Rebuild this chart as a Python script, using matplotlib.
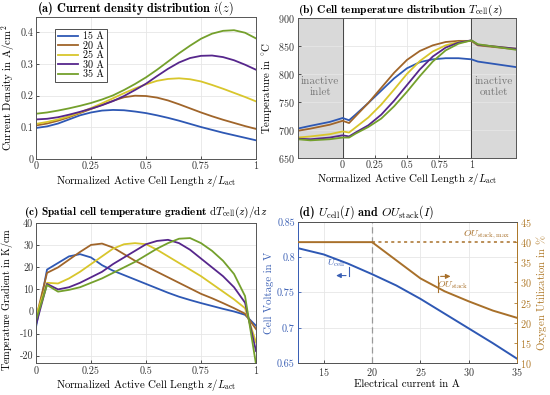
import numpy as np
import matplotlib
matplotlib.use("Agg")
import matplotlib.pyplot as plt

plt.rcParams['font.family'] = 'cmr10'
plt.rcParams['mathtext.fontset'] = 'cm'
plt.rcParams['axes.formatter.use_mathtext'] = True
plt.rcParams['axes.unicode_minus'] = True

# ---- data ----
labels = ['15 A', '20 A', '25 A', '30 A', '35 A']
colors = ['#2e58b4', '#a0652a', '#d8c62c', '#56268c', '#74a02c']

# (a) current density along the active cell
z_a = np.round(np.arange(0, 1.0001, 0.05), 2)
i_15 = [0.098, 0.103, 0.112, 0.125, 0.138, 0.147, 0.153, 0.155, 0.154, 0.150, 0.145,
        0.138, 0.130, 0.121, 0.111, 0.101, 0.092, 0.083, 0.075, 0.067, 0.059]
i_20 = [0.106, 0.112, 0.121, 0.132, 0.145, 0.158, 0.171, 0.184, 0.195, 0.200, 0.199,
        0.194, 0.185, 0.173, 0.160, 0.147, 0.135, 0.124, 0.114, 0.104, 0.095]
i_25 = [0.111, 0.117, 0.125, 0.135, 0.147, 0.161, 0.176, 0.192, 0.208, 0.223, 0.236,
        0.247, 0.253, 0.255, 0.252, 0.245, 0.234, 0.222, 0.209, 0.196, 0.182]
i_30 = [0.125, 0.127, 0.132, 0.140, 0.149, 0.159, 0.170, 0.183, 0.199, 0.218, 0.238,
        0.262, 0.285, 0.305, 0.319, 0.326, 0.327, 0.322, 0.312, 0.298, 0.282]
i_35 = [0.143, 0.147, 0.153, 0.160, 0.168, 0.177, 0.188, 0.201, 0.218, 0.237, 0.258,
        0.282, 0.308, 0.334, 0.358, 0.380, 0.396, 0.405, 0.407, 0.399, 0.381]
i_all = [i_15, i_20, i_25, i_30, i_35]

# (b) cell temperature incl. inactive inlet/outlet zones
z_b = [-0.35, -0.25, -0.1, 0.0, 0.05, 0.1, 0.2, 0.3, 0.4, 0.5, 0.6, 0.7, 0.8, 0.9, 1.0, 1.05, 1.35]
T_15 = [702, 707, 714, 721, 717, 727, 748, 770, 792, 810, 821, 826, 828, 828, 826, 822, 812]
T_20 = [698, 702, 709, 716, 712, 724, 748, 775, 802, 825, 841, 851, 857, 859, 859, 851, 844]
T_25 = [686, 688, 692, 697, 695, 704, 722, 745, 772, 800, 823, 840, 851, 857, 859, 852, 845]
T_30 = [684, 683, 686, 690, 688, 695, 708, 727, 752, 780, 808, 831, 847, 856, 860, 852, 845]
T_35 = [683, 681, 683, 686, 686, 693, 705, 720, 742, 768, 796, 822, 842, 854, 860, 853, 843]
T_all = [T_15, T_20, T_25, T_30, T_35]

# (c) spatial temperature gradient
z_c = z_a
g_15 = [-7, 19, 22, 25, 26, 24.5, 21, 18.5, 16.5, 14.5, 12.5, 10.5, 8.5, 6.7, 5.2, 3.8, 2.5, 1.2, 0, -1.5, -6.5]
g_20 = [-3, 17.5, 20, 23.5, 27, 30.2, 30.8, 29, 26, 23, 20.5, 18, 15.5, 13, 10.5, 8, 6, 3.8, 1.5, -1, -8]
g_25 = [-2, 13, 12.7, 15, 18, 21.5, 25, 28.5, 30.5, 31, 30.5, 28, 25, 22, 19, 16, 12.5, 9, 5.5, 1.5, -14]
g_30 = [-6, 12.5, 10, 11, 13, 15.5, 18, 21.5, 24.5, 27.5, 30.5, 32, 32.5, 31, 28, 24, 20, 16, 11, 4, -18]
g_35 = [-4, 12, 9, 9.8, 11, 13, 15, 17.5, 20, 22.5, 25.5, 28.5, 31, 33, 33.3, 31, 27.5, 23, 17, 7, -24]
g_all = [g_15, g_20, g_25, g_30, g_35]
g_ticks = [-20, -10, 0, 10, 20, 30, 40]

# (d) cell voltage and oxygen utilization vs current
current = [12.3, 15, 17.5, 20, 22.5, 25, 27.5, 30, 32.5, 35]
U_cell = [0.813, 0.804, 0.791, 0.776, 0.760, 0.741, 0.720, 0.699, 0.678, 0.656]
OU_stack = [40, 40, 40, 40, 35.5, 31, 27.8, 25.3, 23.0, 21.2]
OU_max = 40

blue_ax = '#3a5fb4'
gold_ax = '#b07a2a'
zlabel = r'Normalized Active Cell Length $z/L_{\mathrm{act}}$'
TICK = 7.3
LAB = 7.8


def style(ax):
    ax.grid(True, color='#e6e6e6', lw=0.6)
    ax.set_axisbelow(True)
    for s in ax.spines.values():
        s.set_color('#555555')
        s.set_linewidth(0.7)
    ax.tick_params(labelsize=TICK, length=2.5, width=0.6, colors='#333333',
                   direction='in', pad=2)


fig = plt.figure(figsize=(5.5, 3.95), dpi=100)

# ---- (a) ----
ax_a = fig.add_axes([0.0655, 0.5975, 0.4, 0.3605])
for y, c, lab in zip(i_all, colors, labels):
    ax_a.plot(z_a, y, color=c, lw=1.3, label=lab)
ax_a.set_xlim(0, 1)
ax_a.set_ylim(0, 0.45)
ax_a.set_xticks([0, 0.25, 0.5, 0.75, 1])
ax_a.set_xticklabels(['0', '0.25', '0.5', '0.75', '1'])
ax_a.set_yticks([0, 0.1, 0.2, 0.3, 0.4])
ax_a.set_yticklabels(['0', '0.1', '0.2', '0.3', '0.4'])
ax_a.set_xlabel(zlabel, fontsize=LAB, labelpad=1)
ax_a.set_ylabel(r'Current Density in $\mathrm{A/cm^2}$', fontsize=LAB)
ax_a.yaxis.set_label_coords(-0.085, 0.5)
ax_a.set_title(r'(a) Current density distribution $i(z)$', fontsize=8.8,
               fontfamily='cmb10', pad=2, loc='left', x=0.005)
leg = ax_a.legend(loc='upper left', bbox_to_anchor=(0.065, 0.95), fontsize=7.2,
                  handlelength=2.0, labelspacing=0.0, borderpad=0.3,
                  handletextpad=0.5, fancybox=False, framealpha=1)
leg.get_frame().set_edgecolor('#333333')
leg.get_frame().set_linewidth(0.6)
style(ax_a)

# ---- (b) ----
ax_b = fig.add_axes([0.541, 0.6008, 0.398, 0.3537])
ax_b.axvspan(-0.35, 0, color='#d9d9d9', zorder=0)
ax_b.axvspan(1, 1.35, color='#d9d9d9', zorder=0)
ax_b.axvline(0, color='#444444', lw=0.7, zorder=1)
ax_b.axvline(1, color='#444444', lw=0.7, zorder=1)
for y, c in zip(T_all, colors):
    ax_b.plot(z_b, y, color=c, lw=1.3)
ax_b.text(-0.175, 777, 'inactive\ninlet', ha='center', va='center', fontsize=8,
          color='#777777', linespacing=1.2)
ax_b.text(1.175, 777, 'inactive\noutlet', ha='center', va='center', fontsize=8,
          color='#777777', linespacing=1.2)
ax_b.set_xlim(-0.35, 1.35)
ax_b.set_ylim(650, 900)
ax_b.set_xticks([0, 0.25, 0.5, 0.75, 1])
ax_b.set_xticklabels(['0', '0.25', '0.5', '0.75', '1'])
ax_b.set_yticks(range(650, 901, 50))
ax_b.set_xlabel(zlabel, fontsize=LAB, labelpad=1)
ax_b.set_ylabel(r'Temperature in $^{\circ}\mathrm{C}$', fontsize=LAB, labelpad=3)
ax_b.set_title(r'(b) Cell temperature distribution $T_{\mathrm{cell}}(z)$', fontsize=8.2,
               fontfamily='cmb10', pad=3.5, loc='left', x=0.0)
style(ax_b)

# ---- (c) ----
ax_c = fig.add_axes([0.0655, 0.0803, 0.4, 0.3544])
for y, c in zip(g_all, colors):
    ax_c.plot(z_c, y, color=c, lw=1.3)
ax_c.set_xlim(0, 1)
ax_c.set_ylim(-23.5, 40)
ax_c.set_xticks([0, 0.25, 0.5, 0.75, 1])
ax_c.set_xticklabels(['0', '0.25', '0.5', '0.75', '1'])
ax_c.set_yticks(g_ticks)
ax_c.set_yticklabels([str(t) for t in g_ticks])
ax_c.set_xlabel(zlabel, fontsize=LAB, labelpad=1)
ax_c.set_ylabel(r'Temperature Gradient in $\mathrm{K/cm}$', fontsize=7.3)
ax_c.yaxis.set_label_coords(-0.095, 0.455)
ax_c.set_title(r'(c) Spatial cell temperature gradient $\mathrm{d}T_{\mathrm{cell}}(z)/\mathrm{d}z$',
               fontsize=8.1, fontfamily='cmb10', pad=6)
style(ax_c)

# ---- (d) ----
ax_d = fig.add_axes([0.541, 0.081, 0.3993, 0.357])
ax_d2 = ax_d.twinx()
ax_d.plot(current, U_cell, color='#2e58b4', lw=1.4, zorder=3)
ax_d.axvline(20, color='#999999', lw=0.9, ls=(0, (5, 3)), zorder=2)
ax_d2.plot(current, OU_stack, color='#a8702a', lw=1.4, zorder=3)
ax_d2.plot([20, 35], [OU_max, OU_max], color='#a8702a', lw=1.1, ls=(0, (2, 2.2)))
ax_d.set_xlim(12.3, 35)
ax_d.set_ylim(0.65, 0.85)
ax_d2.set_ylim(10, 45)
ax_d.set_xticks([15, 20, 25, 30, 35])
ax_d.set_yticks([0.65, 0.7, 0.75, 0.8, 0.85])
ax_d.set_yticklabels(['0.65', '0.7', '0.75', '0.8', '0.85'])
ax_d2.set_yticks(range(10, 46, 5))
ax_d.set_xlabel('Electrical current in A', fontsize=LAB, labelpad=1)
ax_d.set_ylabel('Cell Voltage in V', fontsize=LAB, color=blue_ax, labelpad=2)
ax_d2.set_ylabel(r'Oxygen Utilization in $\%$', fontsize=LAB, color=gold_ax, labelpad=2)
ax_d2.set_title(r'(d) $U_{\mathrm{cell}}(I)$ and $OU_{\mathrm{stack}}(I)$', fontsize=8.7,
                fontfamily='cmb10', pad=4.5, loc='left', x=0.0)
style(ax_d)
style(ax_d2)
ax_d2.grid(False)
ax_d.tick_params(axis='y', colors=blue_ax)
ax_d.tick_params(axis='x', colors='#333333')
ax_d2.tick_params(axis='y', colors=gold_ax)
ax_d.spines['left'].set_color(blue_ax)
ax_d2.spines['right'].set_color(gold_ax)
ax_d2.spines['left'].set_color(blue_ax)

# annotations
ax_d.text(16.3, 0.7915, r'$U_{\mathrm{cell}}$', fontsize=7, color=blue_ax, ha='center', va='center')
ax_d.plot([17.6, 17.6], [0.786, 0.774], color=blue_ax, lw=0.8)
ax_d.annotate('', xy=(16.0, 0.774), xytext=(17.6, 0.774),
              arrowprops=dict(arrowstyle='-|>', color=blue_ax, lw=0.8, mutation_scale=7))
ax_d2.plot([26.8, 26.8], [27.5, 31.5], color='#a8702a', lw=0.8)
ax_d2.annotate('', xy=(28.4, 31.5), xytext=(26.8, 31.5),
               arrowprops=dict(arrowstyle='-|>', color='#a8702a', lw=0.8, mutation_scale=7))
ax_d2.text(28.3, 29.3, r'$OU_{\mathrm{stack}}$', fontsize=7, color='#a8702a', ha='center', va='center')
ax_d2.text(31.8, 41.8, r'$OU_{\mathrm{stack,max}}$', fontsize=7, color='#a8702a', ha='center', va='center')

fig.savefig('out.png', dpi=100)
